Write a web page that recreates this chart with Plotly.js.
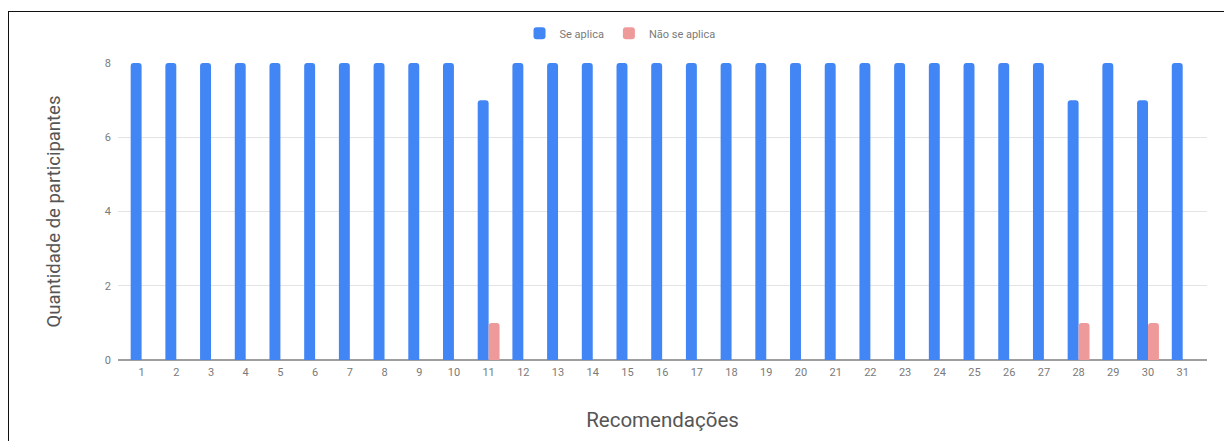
<!DOCTYPE html>
<html>
<head>
<meta charset="utf-8">
<script src="https://cdn.plot.ly/plotly-3.0.1.min.js"></script>
<style>
  html, body { margin: 0; padding: 0; background: #ffffff; }
  #wrap { position: relative; width: 1224px; height: 441px; overflow: hidden; }
  #chart { position: absolute; left: 0; top: 0; width: 1224px; height: 441px; }
  #frame { position: absolute; left: 8px; top: 11px; width: 1230px; height: 450px;
           border: 1.5px solid #111; box-sizing: border-box; pointer-events: none; }
</style>
</head>
<body>
<div id="wrap">
  <div id="chart"></div>
  <div id="frame"></div>
</div>
<script>
// Recommendations 1..31 and how many participants judged each one applicable
const recomendacoes = ['1','2','3','4','5','6','7','8','9','10','11','12','13','14','15','16',
  '17','18','19','20','21','22','23','24','25','26','27','28','29','30','31'];
const seAplica = [8,8,8,8,8,8,8,8,8,8,7,8,8,8,8,8,8,8,8,8,8,8,8,8,8,8,8,7,8,7,8];
const naoSeAplica = [0,0,0,0,0,0,0,0,0,0,1,0,0,0,0,0,0,0,0,0,0,0,0,0,0,0,0,1,0,1,0];
const yTicks = [0, 2, 4, 6, 8];

const tickFont = { family: 'Roboto, Arial, sans-serif', size: 11, color: '#7a7a7a' };

const traces = [
  { type: 'bar', name: 'Se aplica', x: recomendacoes, y: seAplica,
    marker: { color: '#4285f4' }, hoverinfo: 'x+y' },
  { type: 'bar', name: 'Não se aplica', x: recomendacoes, y: naoSeAplica,
    marker: { color: '#ef9a9a' }, hoverinfo: 'x+y' }
];

const layout = {
  width: 1224, height: 441,
  margin: { l: 118, r: 17, t: 63, b: 81 },
  paper_bgcolor: '#ffffff', plot_bgcolor: '#ffffff',
  barmode: 'group', bargap: 0.37, bargroupgap: 0, barcornerradius: 3,
  showlegend: true,
  legend: { orientation: 'h', x: 0.461, xanchor: 'center', y: 1.10, yanchor: 'middle',
            font: tickFont, itemwidth: 30, traceorder: 'normal' },
  xaxis: {
    type: 'category', range: [-0.68, 30.7], showgrid: false,
    showline: false, zeroline: false, ticks: '', tickfont: tickFont,
    ticklabelstandoff: 4, fixedrange: true,
    title: { text: 'Recomendações', standoff: 34,
             font: { family: 'Roboto, Arial, sans-serif', size: 20.5, color: '#555555' } }
  },
  yaxis: {
    range: [0, 8], tickvals: yTicks, showgrid: true, gridcolor: '#e4e4e4', gridwidth: 1,
    zeroline: true, zerolinecolor: '#9e9e9e', zerolinewidth: 2,
    showline: false, ticks: '', tickfont: tickFont, ticklabelstandoff: 6, fixedrange: true,
    title: { text: 'Quantidade de participantes', standoff: 39,
             font: { family: 'Roboto, Arial, sans-serif', size: 18.5, color: '#555555' } }
  }
};

Plotly.newPlot('chart', traces, layout, { displayModeBar: false, staticPlot: true });
</script>
</body>
</html>
